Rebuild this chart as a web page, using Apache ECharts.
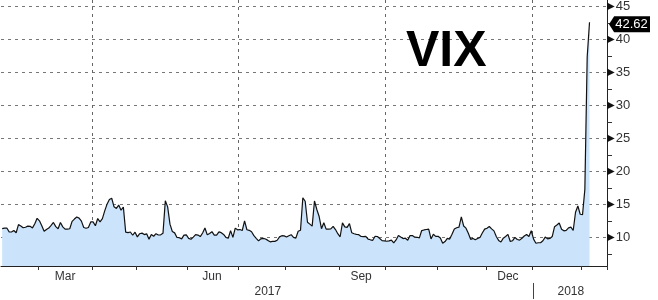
<!DOCTYPE html>
<html>
<head>
<meta charset="utf-8">
<script src="https://cdn.jsdelivr.net/npm/echarts@6/dist/echarts.min.js"></script>
<style>
html,body{margin:0;padding:0;background:#fff;}
#chart{width:658px;height:300px;}
</style>
</head>
<body>
<div id="chart"></div>
<script>
// VIX daily closes, per month
const feb17 = [11.37, 11.45, 11.45, 10.88, 10.85, 11.07, 10.74, 11.97, 11.76, 11.49, 11.57, 11.74, 11.71, 11.47, 12.09, 12.92];
const mar17 = [12.54, 11.81, 10.96, 11.24, 11.45, 11.86, 12.30, 11.66, 11.35, 12.30, 11.63, 11.28, 11.28, 11.34, 12.47, 12.81, 13.12, 12.96, 12.50, 11.53, 11.42, 11.54, 12.37];
const apr17 = [12.38, 11.79, 12.89, 12.39, 12.87, 14.05, 15.07, 15.77, 15.96, 14.66, 14.42, 14.93, 14.15, 14.63, 10.84, 10.76, 10.85, 10.36, 10.82];
const may17 = [10.11, 10.59, 10.68, 10.46, 10.57, 9.77, 10.46, 10.21, 10.60, 10.40, 10.42, 10.65, 15.59, 14.66, 12.04, 10.93, 10.72, 10.02, 9.99, 9.81, 10.38, 10.41];
const jun17 = [9.89, 9.75, 10.07, 10.45, 10.39, 10.16, 10.70, 11.46, 10.42, 10.64, 10.90, 10.38, 10.37, 10.86, 10.75, 10.48, 10.02, 9.90, 11.06, 10.03, 11.44, 11.18];
const jul17 = [11.22, 11.07, 12.54, 11.19, 11.11, 10.89, 10.30, 9.90, 9.51, 9.82, 9.89, 9.79, 9.58, 9.36, 9.43, 9.43, 9.60, 10.11, 10.29, 10.26];
const aug17 = [10.09, 10.28, 10.44, 10.03, 9.93, 10.96, 11.11, 16.04, 15.51, 12.33, 12.04, 11.74, 15.55, 14.26, 13.19, 11.35, 12.25, 11.28, 11.28, 11.32, 11.70, 11.22, 10.59];
const sep17 = [10.13, 12.23, 11.63, 11.55, 12.12, 10.73, 10.58, 10.50, 10.44, 10.17, 10.15, 10.18, 9.78, 9.67, 9.59, 10.21, 10.17, 9.87, 9.55, 9.51];
const oct17 = [9.45, 9.51, 9.63, 9.19, 9.65, 10.33, 10.08, 9.85, 9.91, 9.61, 10.31, 10.31, 10.07, 10.05, 9.97, 11.07, 11.16, 11.23, 11.30, 9.80, 10.50, 10.18];
const nov17 = [10.20, 9.93, 9.14, 9.40, 9.89, 9.78, 10.50, 11.29, 11.50, 11.59, 13.13, 11.76, 11.43, 10.65, 9.73, 9.88, 9.67, 9.87, 10.03, 10.70, 11.28];
const dec17 = [11.43, 11.68, 11.33, 11.02, 10.16, 9.58, 9.34, 9.92, 10.18, 10.49, 9.42, 9.53, 10.03, 9.72, 9.62, 9.90, 10.25, 10.47, 10.18, 11.04];
const jan18 = [9.77, 9.15, 9.22, 9.22, 9.52, 10.08, 9.82, 9.88, 10.16, 11.66, 11.91, 12.22, 11.27, 11.03, 11.10, 11.47, 11.58, 11.08, 13.84, 14.79, 13.54];
const feb18 = [13.47, 17.31, 37.32, 42.62];

// Axis text
const monthLabels = { '2017-03': 'Mar', '2017-06': 'Jun', '2017-09': 'Sep', '2017-12': 'Dec' };
const yearLabels = ['2017', '2018'];
const gridMonths = ['01', '04', '07', '10'];

// Trading calendar
const firstDay = '2017-02-06';
const holidays = ['2017-02-20','2017-04-14','2017-05-29','2017-07-04','2017-09-04','2017-11-23','2017-12-25','2018-01-01','2018-01-15','2018-02-19'];
const padDays = 7;

const vix = [].concat(feb17, mar17, apr17, may17, jun17, jul17, aug17, sep17, oct17, nov17, dec17, jan18, feb18);

const days = [];
{
  const d = new Date(firstDay + 'T00:00:00Z');
  while (days.length < vix.length + padDays) {
    const wd = d.getUTCDay();
    const s = d.toISOString().slice(0, 10);
    if (wd !== 0 && wd !== 6 && holidays.indexOf(s) < 0) days.push(s);
    d.setUTCDate(d.getUTCDate() + 1);
  }
}
const seriesData = days.map((s, i) => (i < vix.length ? vix[i] : null));

// month / year ranges
const monthRange = {};
const yearRange = {};
days.forEach((s, i) => {
  const m = s.slice(0, 7), y = s.slice(0, 4);
  if (!monthRange[m]) monthRange[m] = [i, i]; else monthRange[m][1] = i;
  if (!yearRange[y]) yearRange[y] = [i, i]; else yearRange[y][1] = i;
});
const monthStartSet = new Set();
const quarterSet = new Set();
const monthLabelAt = {};
Object.keys(monthRange).forEach(m => {
  const r = monthRange[m];
  if (r[0] > 0) {
    monthStartSet.add(r[0]);
    if (gridMonths.indexOf(m.slice(5)) >= 0) quarterSet.add(r[0]);
  }
  if (monthLabels[m]) monthLabelAt[Math.floor((r[0] + r[1] + 1) / 2 - 0.5)] = monthLabels[m];
});
const yearLabelAt = {};
const yearStartSet = new Set();
yearLabels.forEach(y => {
  const r = yearRange[y];
  if (r[0] > 0) yearStartSet.add(r[0]);
  yearLabelAt[Math.round((r[0] + r[1] + 1) / 2 - 0.5)] = y;
});
const lastIdx = vix.length - 1;
const lastVal = vix[lastIdx];

const FONT = 'Liberation Sans';
const chart = echarts.init(document.getElementById('chart'), null, { renderer: 'canvas' });
chart.setOption({
  animation: false,
  backgroundColor: '#ffffff',
  title: {
    text: 'VIX', left: 406, top: 27, padding: 0,
    textStyle: { fontSize: 50, fontWeight: 'bold', color: '#000', fontFamily: FONT }
  },
  grid: { left: 1, right: 51, top: 0, bottom: 34, containLabel: false },
  xAxis: [{
    type: 'category', data: days, boundaryGap: true,
    axisLine: { show: true, lineStyle: { color: '#222', width: 1 } },
    axisTick: { show: true, interval: (i) => monthStartSet.has(i), length: 4, lineStyle: { color: '#333' } },
    axisLabel: {
      interval: (i) => monthLabelAt[i] !== undefined,
      formatter: (v, i) => monthLabelAt[days.indexOf(v)] || '',
      margin: 5, color: '#333', fontSize: 12, fontFamily: FONT
    },
    splitLine: { show: true, interval: (i) => quarterSet.has(i), lineStyle: { type: [3, 4], color: '#666', width: 1 } }
  }, {
    type: 'category', data: days, boundaryGap: true, position: 'bottom', offset: 17,
    axisLine: { show: false },
    axisTick: { show: true, alignWithLabel: true, interval: (i) => yearStartSet.has(i), length: 16, lineStyle: { color: '#444' } },
    axisLabel: {
      interval: (i) => yearLabelAt[i] !== undefined,
      formatter: (v) => yearLabelAt[days.indexOf(v)] || '',
      margin: 3, color: '#333', fontSize: 12, fontFamily: FONT
    },
    splitLine: { show: false }
  }],
  yAxis: {
    type: 'value', position: 'right', min: 5.7, max: 46, splitNumber: 8, minInterval: 5, maxInterval: 5,
    axisLine: { show: true, lineStyle: { color: '#222', width: 1 } },
    axisTick: { show: false },
    minorTick: { show: true, splitNumber: 2, length: 5, lineStyle: { color: '#333' } },
    splitLine: { show: true, showMinLine: false, showMaxLine: false, lineStyle: { type: [3, 4], color: '#777', width: 1 } },
    axisLabel: {
      margin: 0,
      formatter: (v) => (Math.abs(v % 5) < 1e-9 ? '{t|▶}{v|' + v + '}' : ''),
      rich: {
        t: { fontSize: 10, color: '#111', fontFamily: 'DejaVu Sans', padding: [0, 1, 0, 0] },
        v: { fontSize: 13, color: '#333', fontFamily: FONT }
      }
    }
  },
  series: [{
    type: 'line', data: seriesData, xAxisIndex: 0, symbol: 'none', showSymbol: false,
    lineStyle: { color: '#111', width: 1.2 },
    areaStyle: { color: '#cce4fb', opacity: 1 },
    silent: true,
    markPoint: {
      silent: true,
      symbol: 'path://M0,8 L5,0 L40,0 L40,16 L5,16 Z',
      symbolSize: [41, 16],
      symbolKeepAspect: false,
      symbolOffset: [40, 2],
      itemStyle: { color: '#000' },
      label: {
        show: true, position: 'inside', color: '#fff', fontSize: 13, fontFamily: FONT, offset: [2, 0],
        formatter: (p) => Number(p.value).toFixed(2)
      },
      data: [{ coord: [days[lastIdx], lastVal], value: lastVal }]
    }
  }]
});
</script>
</body>
</html>
